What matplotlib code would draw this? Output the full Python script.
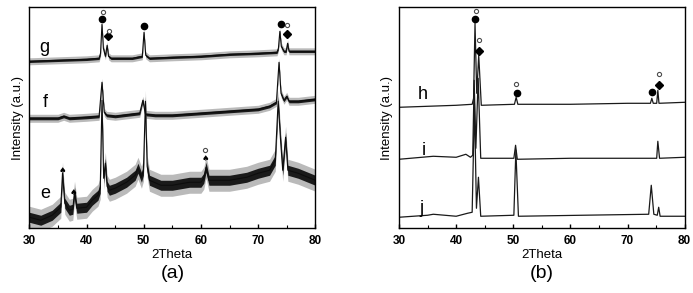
import numpy as np, matplotlib
matplotlib.use('Agg')
import matplotlib.pyplot as plt

plt.rcParams['font.family'] = ['Liberation Sans', 'DejaVu Sans']

# ---- panel (a) traces (y in arbitrary units, 0 = axis bottom)
g_x = [30, 35, 40, 42.2, 42.45, 42.7, 42.95, 43.3, 43.6, 43.85, 44.3, 48, 49.75, 50.05, 50.35, 51, 55, 60, 65, 70,
       73.3, 73.55, 73.8, 74.05, 74.5, 74.9, 75.15, 75.4, 77, 80]
g_y = [167, 168, 169, 170, 175, 204, 180, 172, 183, 172, 170, 170, 172, 196, 173, 170, 171, 172, 174, 175,
       176, 180, 197, 182, 177, 177, 185, 177, 177, 177]
g_noise = (1.2, 3.5)

f_x = [30, 35, 36, 37, 40, 42.2, 42.7, 43.1, 43.5, 45, 49.3, 49.85, 50.3, 52, 55, 60, 65, 70, 72, 73.2,
       73.65, 74.0, 74.5, 75.0, 75.4, 77, 80]
f_y = [110, 110, 112, 110, 111, 112, 146, 116, 113, 112, 115, 128, 114, 113, 113, 115, 117, 119, 122, 126,
       166, 135, 128, 132, 127, 127, 129]
f_noise = (1.5, 4)

e_x = [30, 32, 34, 35.5, 35.8, 36.2, 37, 37.6, 37.9, 38.3, 40, 41, 42, 42.4, 42.7, 43.0, 43.3, 43.6, 44, 45,
       47, 48.5, 49, 49.6, 49.95, 50.3, 50.6, 51, 53, 55, 58, 60, 60.5, 60.9, 61.4, 65, 68, 70, 72, 73,
       73.5, 73.9, 74.3, 74.8, 75.2, 77, 80]
e_y = [11, 8, 13, 21, 55, 25, 18, 19, 36, 20, 21, 28, 33, 40, 128, 50, 65, 42, 38, 40,
       46, 53, 60, 51, 58, 127, 62, 48, 43, 43, 46, 46, 50, 61, 48, 48, 51, 55, 58, 68,
       127, 90, 58, 91, 58, 55, 48]
e_noise = (5, 11)

# ---- panel (b) traces
h_x = [30, 40, 42.8, 43.05, 43.3, 43.6, 43.95, 44.4, 50.2, 50.5, 50.8, 60, 70, 74.0, 74.25, 74.5, 75.1, 75.3,
       75.5, 80]
h_y = [121, 123, 124, 130, 205, 135, 173, 123, 124, 131, 124, 124, 125, 125, 130, 125, 125, 138,
       125, 126]

i_x = [30, 36, 40, 41.7, 42.5, 42.9, 43.15, 43.45, 43.85, 44.3, 50.1, 50.4, 50.7, 60, 75.1, 75.3, 75.6, 80]
i_y = [69, 72, 71, 74, 71, 73, 148, 80, 150, 70, 70, 83, 69, 70, 70, 87, 70, 71]

j_x = [30, 35, 36, 40, 42, 42.8, 43.2, 43.55, 43.9, 44.3, 50.1, 50.45, 50.9, 62, 73.7, 74.15, 74.6, 75.2,
       75.45, 75.7, 80]
j_y = [11, 13, 14, 12, 15, 16, 125, 20, 51, 12, 13, 78, 12, 13, 14, 43, 14, 13, 21, 12, 12]

# ---- phase markers (deg, intensity)
a_dot = ([42.7, 50.05, 73.95], [209, 202, 204])
a_dia = ([43.8, 75.1], [192, 194])
a_ring = ([42.85, 43.95, 75.1, 60.8], [216, 197, 203, 78])
a_spade = ([35.8, 37.7, 60.8], [58, 36, 70])
b_dot = ([43.3, 50.6, 74.3], [209, 135, 136])
b_dia = ([43.95, 75.45], [177, 143])
b_ring = ([43.4, 43.95, 50.5, 75.45], [217, 188, 144, 154])

a_labels = (['g', 'f', 'e'], [32.7, 32.7, 32.7], [181, 126, 35])
b_labels = (['h', 'i', 'j'], [34.1, 34.4, 34.0], [134, 78, 20])

fig = plt.figure(figsize=(6.93, 2.93), dpi=100)
ax_a = fig.add_axes([0.0423, 0.221, 0.4127, 0.754])
ax_b = fig.add_axes([0.5758, 0.221, 0.4122, 0.754])


def trace(ax, x, y, noise=None):
    x, y = np.array(x), np.array(y)
    if noise is not None:
        inner, outer = noise
        ax.fill_between(x, y - outer, y + outer, color='0.55', lw=0, alpha=0.6)
        ax.fill_between(x, y - inner, y + inner, color='0.1', lw=0)
        ax.plot(x, y, color='0.05', lw=0.8)
    else:
        ax.plot(x, y, color='0.1', lw=0.9)


def marks(ax, dot, dia, ring, spade=None):
    ax.plot(*dot, 'o', color='k', ms=4.5, ls='none')
    ax.plot(*dia, 'D', color='k', ms=4.5, ls='none')
    ax.plot(*ring, 'o', mfc='white', mec='0.3', mew=0.8, ms=3, ls='none')
    if spade is not None:
        for xx, yy in zip(*spade):
            ax.text(xx, yy, '\u2660', fontsize=6, ha='center', va='center', family='DejaVu Sans')


trace(ax_a, g_x, g_y, g_noise)
trace(ax_a, f_x, f_y, f_noise)
trace(ax_a, e_x, e_y, e_noise)
marks(ax_a, a_dot, a_dia, a_ring, a_spade)
for s, xx, yy in zip(*a_labels):
    ax_a.text(xx, yy, s, fontsize=13, ha='center', va='center')

for x, y in [(h_x, h_y), (i_x, i_y), (j_x, j_y)]:
    trace(ax_b, x, y)
marks(ax_b, b_dot, b_dia, b_ring)
for s, xx, yy in zip(*b_labels):
    ax_b.text(xx, yy, s, fontsize=13, ha='center', va='center')

for ax, tag in [(ax_a, '(a)'), (ax_b, '(b)')]:
    ax.set_xlim(30, 80)
    ax.set_ylim(0, 221)
    ax.set_yticks([])
    ax.set_xticks(range(30, 81, 10))
    ax.set_xticks(range(35, 80, 10), minor=True)
    ax.tick_params(axis='x', which='major', direction='in', length=3, width=1, pad=5, labelsize=8.5)
    ax.tick_params(axis='x', which='minor', direction='in', length=2, width=0.8)
    for lab in ax.get_xticklabels():
        lab.set_fontweight('bold')
    for sp in ax.spines.values():
        sp.set_linewidth(1)
    ax.set_xlabel('2Theta', fontsize=9.5, labelpad=1.5)
    ax.set_ylabel('Intensity (a.u.)', fontsize=9.5, labelpad=4)
    ax.text(0.5, -0.205, tag, transform=ax.transAxes, fontsize=14, ha='center', va='center')

fig.savefig('out.png', dpi=100)
